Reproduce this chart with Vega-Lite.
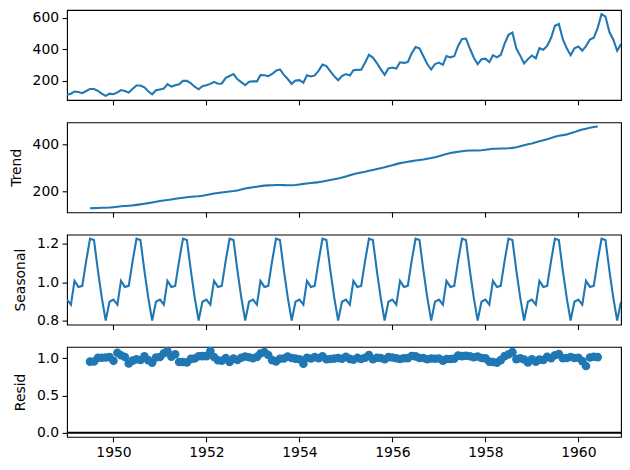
{
 "$schema": "https://vega.github.io/schema/vega-lite/v6.json",
 "background": "white",
 "padding": {"left": 8, "top": 9, "right": 10, "bottom": 8},
 "spacing": 15.3,
 "config": {
  "font": "DejaVu Sans",
  "view": {"stroke": "black", "strokeWidth": 1.1},
  "axis": {"grid": false, "domain": false, "tickColor": "black", "tickSize": 4.9, "tickWidth": 1.1, "labelColor": "black", "labelFontSize": 13.9, "labelFont": "DejaVu Sans", "labelPadding": 3.5, "titleFont": "DejaVu Sans", "titleFontSize": 13.9, "titleFontWeight": "normal", "titleColor": "black", "titlePadding": 8.6, "labelFlush": false, "labelOverlap": false},
  "line": {"color": "#1f77b4", "strokeWidth": 2.08},
  "point": {"color": "#1f77b4"}
 },
 "datasets": {
  "m": [
   {"d":"1949-01","v":112,"s":0.9102},{"d":"1949-02","v":118,"s":0.8836},{"d":"1949-03","v":132,"s":1.0074},{"d":"1949-04","v":129,"s":0.9759},{"d":"1949-05","v":121,"s":0.9814},{"d":"1949-06","v":135,"s":1.1128},{"d":"1949-07","v":148,"s":1.2266},{"d":"1949-08","v":148,"s":1.2199},{"d":"1949-09","v":136,"s":1.0605},{"d":"1949-10","v":119,"s":0.9218},{"d":"1949-11","v":104,"s":0.8012},{"d":"1949-12","v":118,"s":0.8988},
   {"d":"1950-01","v":115,"s":0.9102},{"d":"1950-02","v":126,"s":0.8836},{"d":"1950-03","v":141,"s":1.0074},{"d":"1950-04","v":135,"s":0.9759},{"d":"1950-05","v":125,"s":0.9814},{"d":"1950-06","v":149,"s":1.1128},{"d":"1950-07","v":170,"s":1.2266},{"d":"1950-08","v":170,"s":1.2199},{"d":"1950-09","v":158,"s":1.0605},{"d":"1950-10","v":133,"s":0.9218},{"d":"1950-11","v":114,"s":0.8012},{"d":"1950-12","v":140,"s":0.8988},
   {"d":"1951-01","v":145,"s":0.9102},{"d":"1951-02","v":150,"s":0.8836},{"d":"1951-03","v":178,"s":1.0074},{"d":"1951-04","v":163,"s":0.9759},{"d":"1951-05","v":172,"s":0.9814},{"d":"1951-06","v":178,"s":1.1128},{"d":"1951-07","v":199,"s":1.2266},{"d":"1951-08","v":199,"s":1.2199},{"d":"1951-09","v":184,"s":1.0605},{"d":"1951-10","v":162,"s":0.9218},{"d":"1951-11","v":146,"s":0.8012},{"d":"1951-12","v":166,"s":0.8988},
   {"d":"1952-01","v":171,"s":0.9102},{"d":"1952-02","v":180,"s":0.8836},{"d":"1952-03","v":193,"s":1.0074},{"d":"1952-04","v":181,"s":0.9759},{"d":"1952-05","v":183,"s":0.9814},{"d":"1952-06","v":218,"s":1.1128},{"d":"1952-07","v":230,"s":1.2266},{"d":"1952-08","v":242,"s":1.2199},{"d":"1952-09","v":209,"s":1.0605},{"d":"1952-10","v":191,"s":0.9218},{"d":"1952-11","v":172,"s":0.8012},{"d":"1952-12","v":194,"s":0.8988},
   {"d":"1953-01","v":196,"s":0.9102},{"d":"1953-02","v":196,"s":0.8836},{"d":"1953-03","v":236,"s":1.0074},{"d":"1953-04","v":235,"s":0.9759},{"d":"1953-05","v":229,"s":0.9814},{"d":"1953-06","v":243,"s":1.1128},{"d":"1953-07","v":264,"s":1.2266},{"d":"1953-08","v":272,"s":1.2199},{"d":"1953-09","v":237,"s":1.0605},{"d":"1953-10","v":211,"s":0.9218},{"d":"1953-11","v":180,"s":0.8012},{"d":"1953-12","v":201,"s":0.8988},
   {"d":"1954-01","v":204,"s":0.9102},{"d":"1954-02","v":188,"s":0.8836},{"d":"1954-03","v":235,"s":1.0074},{"d":"1954-04","v":227,"s":0.9759},{"d":"1954-05","v":234,"s":0.9814},{"d":"1954-06","v":264,"s":1.1128},{"d":"1954-07","v":302,"s":1.2266},{"d":"1954-08","v":293,"s":1.2199},{"d":"1954-09","v":259,"s":1.0605},{"d":"1954-10","v":229,"s":0.9218},{"d":"1954-11","v":203,"s":0.8012},{"d":"1954-12","v":229,"s":0.8988},
   {"d":"1955-01","v":242,"s":0.9102},{"d":"1955-02","v":233,"s":0.8836},{"d":"1955-03","v":267,"s":1.0074},{"d":"1955-04","v":269,"s":0.9759},{"d":"1955-05","v":270,"s":0.9814},{"d":"1955-06","v":315,"s":1.1128},{"d":"1955-07","v":364,"s":1.2266},{"d":"1955-08","v":347,"s":1.2199},{"d":"1955-09","v":312,"s":1.0605},{"d":"1955-10","v":274,"s":0.9218},{"d":"1955-11","v":237,"s":0.8012},{"d":"1955-12","v":278,"s":0.8988},
   {"d":"1956-01","v":284,"s":0.9102},{"d":"1956-02","v":277,"s":0.8836},{"d":"1956-03","v":317,"s":1.0074},{"d":"1956-04","v":313,"s":0.9759},{"d":"1956-05","v":318,"s":0.9814},{"d":"1956-06","v":374,"s":1.1128},{"d":"1956-07","v":413,"s":1.2266},{"d":"1956-08","v":405,"s":1.2199},{"d":"1956-09","v":355,"s":1.0605},{"d":"1956-10","v":306,"s":0.9218},{"d":"1956-11","v":271,"s":0.8012},{"d":"1956-12","v":306,"s":0.8988},
   {"d":"1957-01","v":315,"s":0.9102},{"d":"1957-02","v":301,"s":0.8836},{"d":"1957-03","v":356,"s":1.0074},{"d":"1957-04","v":348,"s":0.9759},{"d":"1957-05","v":355,"s":0.9814},{"d":"1957-06","v":422,"s":1.1128},{"d":"1957-07","v":465,"s":1.2266},{"d":"1957-08","v":467,"s":1.2199},{"d":"1957-09","v":404,"s":1.0605},{"d":"1957-10","v":347,"s":0.9218},{"d":"1957-11","v":305,"s":0.8012},{"d":"1957-12","v":336,"s":0.8988},
   {"d":"1958-01","v":340,"s":0.9102},{"d":"1958-02","v":318,"s":0.8836},{"d":"1958-03","v":362,"s":1.0074},{"d":"1958-04","v":348,"s":0.9759},{"d":"1958-05","v":363,"s":0.9814},{"d":"1958-06","v":435,"s":1.1128},{"d":"1958-07","v":491,"s":1.2266},{"d":"1958-08","v":505,"s":1.2199},{"d":"1958-09","v":404,"s":1.0605},{"d":"1958-10","v":359,"s":0.9218},{"d":"1958-11","v":310,"s":0.8012},{"d":"1958-12","v":337,"s":0.8988},
   {"d":"1959-01","v":360,"s":0.9102},{"d":"1959-02","v":342,"s":0.8836},{"d":"1959-03","v":406,"s":1.0074},{"d":"1959-04","v":396,"s":0.9759},{"d":"1959-05","v":420,"s":0.9814},{"d":"1959-06","v":472,"s":1.1128},{"d":"1959-07","v":548,"s":1.2266},{"d":"1959-08","v":559,"s":1.2199},{"d":"1959-09","v":463,"s":1.0605},{"d":"1959-10","v":407,"s":0.9218},{"d":"1959-11","v":362,"s":0.8012},{"d":"1959-12","v":405,"s":0.8988},
   {"d":"1960-01","v":417,"s":0.9102},{"d":"1960-02","v":391,"s":0.8836},{"d":"1960-03","v":419,"s":1.0074},{"d":"1960-04","v":461,"s":0.9759},{"d":"1960-05","v":472,"s":0.9814},{"d":"1960-06","v":535,"s":1.1128},{"d":"1960-07","v":622,"s":1.2266},{"d":"1960-08","v":606,"s":1.2199},{"d":"1960-09","v":508,"s":1.0605},{"d":"1960-10","v":461,"s":0.9218},{"d":"1960-11","v":390,"s":0.8012},{"d":"1960-12","v":432,"s":0.8988}
  ],
  "t": [
   {"d":"1949-07","t":126.79,"r":0.9517},{"d":"1949-08","t":127.25,"r":0.9534},{"d":"1949-09","t":127.96,"r":1.0022},{"d":"1949-10","t":128.58,"r":1.0040},{"d":"1949-11","t":129.00,"r":1.0063},{"d":"1949-12","t":129.75,"r":1.0118},
   {"d":"1950-01","t":131.25,"r":0.9626},{"d":"1950-02","t":133.08,"r":1.0715},{"d":"1950-03","t":134.92,"r":1.0374},{"d":"1950-04","t":136.42,"r":1.0140},{"d":"1950-05","t":137.42,"r":0.9269},{"d":"1950-06","t":138.75,"r":0.9650},{"d":"1950-07","t":140.92,"r":0.9835},{"d":"1950-08","t":143.17,"r":0.9734},{"d":"1950-09","t":145.71,"r":1.0225},{"d":"1950-10","t":148.42,"r":0.9721},{"d":"1950-11","t":151.54,"r":0.9390},{"d":"1950-12","t":154.71,"r":1.0068},
   {"d":"1951-01","t":157.13,"r":1.0138},{"d":"1951-02","t":159.54,"r":1.0641},{"d":"1951-03","t":161.83,"r":1.0918},{"d":"1951-04","t":164.13,"r":1.0177},{"d":"1951-05","t":166.67,"r":1.0515},{"d":"1951-06","t":169.08,"r":0.9461},{"d":"1951-07","t":171.25,"r":0.9474},{"d":"1951-08","t":173.58,"r":0.9398},{"d":"1951-09","t":175.46,"r":0.9889},{"d":"1951-10","t":176.83,"r":0.9939},{"d":"1951-11","t":178.04,"r":1.0235},{"d":"1951-12","t":180.17,"r":1.0251},
   {"d":"1952-01","t":183.13,"r":1.0259},{"d":"1952-02","t":186.21,"r":1.0940},{"d":"1952-03","t":189.04,"r":1.0135},{"d":"1952-04","t":191.29,"r":0.9696},{"d":"1952-05","t":193.58,"r":0.9633},{"d":"1952-06","t":195.83,"r":1.0004},{"d":"1952-07","t":198.04,"r":0.9468},{"d":"1952-08","t":199.75,"r":0.9931},{"d":"1952-09","t":202.21,"r":0.9746},{"d":"1952-10","t":206.25,"r":1.0046},{"d":"1952-11","t":210.42,"r":1.0202},{"d":"1952-12","t":213.38,"r":1.0115},
   {"d":"1953-01","t":215.83,"r":0.9977},{"d":"1953-02","t":218.50,"r":1.0152},{"d":"1953-03","t":220.92,"r":1.0604},{"d":"1953-04","t":222.92,"r":1.0802},{"d":"1953-05","t":224.08,"r":1.0413},{"d":"1953-06","t":224.71,"r":0.9718},{"d":"1953-07","t":225.33,"r":0.9552},{"d":"1953-08","t":225.33,"r":0.9895},{"d":"1953-09","t":224.96,"r":0.9934},{"d":"1953-10","t":224.58,"r":1.0192},{"d":"1953-11","t":224.46,"r":1.0009},{"d":"1953-12","t":225.54,"r":0.9916},
   {"d":"1954-01","t":228.00,"r":0.9830},{"d":"1954-02","t":230.46,"r":0.9232},{"d":"1954-03","t":232.25,"r":1.0044},{"d":"1954-04","t":233.92,"r":0.9944},{"d":"1954-05","t":235.63,"r":1.0119},{"d":"1954-06","t":237.75,"r":0.9979},{"d":"1954-07","t":240.50,"r":1.0237},{"d":"1954-08","t":243.96,"r":0.9845},{"d":"1954-09","t":247.17,"r":0.9881},{"d":"1954-10","t":250.25,"r":0.9927},{"d":"1954-11","t":253.50,"r":0.9995},{"d":"1954-12","t":257.13,"r":0.9909},
   {"d":"1955-01","t":261.83,"r":1.0154},{"d":"1955-02","t":266.67,"r":0.9888},{"d":"1955-03","t":271.13,"r":0.9775},{"d":"1955-04","t":275.21,"r":1.0016},{"d":"1955-05","t":278.50,"r":0.9879},{"d":"1955-06","t":281.96,"r":1.0039},{"d":"1955-07","t":285.75,"r":1.0385},{"d":"1955-08","t":289.33,"r":0.9831},{"d":"1955-09","t":293.25,"r":1.0033},{"d":"1955-10","t":297.17,"r":1.0003},{"d":"1955-11","t":301.00,"r":0.9828},{"d":"1955-12","t":305.46,"r":1.0126},
   {"d":"1956-01","t":309.96,"r":1.0066},{"d":"1956-02","t":314.42,"r":0.9970},{"d":"1956-03","t":318.63,"r":0.9876},{"d":"1956-04","t":321.75,"r":0.9968},{"d":"1956-05","t":324.50,"r":0.9985},{"d":"1956-06","t":327.08,"r":1.0275},{"d":"1956-07","t":329.54,"r":1.0217},{"d":"1956-08","t":331.83,"r":1.0005},{"d":"1956-09","t":334.46,"r":1.0009},{"d":"1956-10","t":337.54,"r":0.9835},{"d":"1956-11","t":340.54,"r":0.9933},{"d":"1956-12","t":344.08,"r":0.9895},
   {"d":"1957-01","t":348.25,"r":0.9938},{"d":"1957-02","t":353.00,"r":0.9650},{"d":"1957-03","t":357.63,"r":0.9881},{"d":"1957-04","t":361.38,"r":0.9868},{"d":"1957-05","t":364.50,"r":0.9924},{"d":"1957-06","t":367.17,"r":1.0328},{"d":"1957-07","t":369.46,"r":1.0261},{"d":"1957-08","t":371.21,"r":1.0313},{"d":"1957-09","t":372.17,"r":1.0236},{"d":"1957-10","t":372.42,"r":1.0108},{"d":"1957-11","t":372.75,"r":1.0213},{"d":"1957-12","t":373.63,"r":1.0005},
   {"d":"1958-01","t":375.25,"r":0.9955},{"d":"1958-02","t":377.92,"r":0.9523},{"d":"1958-03","t":379.50,"r":0.9469},{"d":"1958-04","t":380.00,"r":0.9384},{"d":"1958-05","t":380.71,"r":0.9716},{"d":"1958-06","t":380.96,"r":1.0261},{"d":"1958-07","t":381.83,"r":1.0484},{"d":"1958-08","t":383.67,"r":1.0790},{"d":"1958-09","t":386.50,"r":0.9857},{"d":"1958-10","t":390.33,"r":0.9978},{"d":"1958-11","t":394.71,"r":0.9803},{"d":"1958-12","t":398.63,"r":0.9406},
   {"d":"1959-01","t":402.54,"r":0.9826},{"d":"1959-02","t":407.17,"r":0.9506},{"d":"1959-03","t":411.88,"r":0.9785},{"d":"1959-04","t":416.33,"r":0.9747},{"d":"1959-05","t":420.50,"r":1.0177},{"d":"1959-06","t":425.50,"r":0.9968},{"d":"1959-07","t":430.71,"r":1.0373},{"d":"1959-08","t":435.13,"r":1.0531},{"d":"1959-09","t":437.71,"r":0.9974},{"d":"1959-10","t":440.96,"r":1.0013},{"d":"1959-11","t":445.83,"r":1.0134},{"d":"1959-12","t":450.63,"r":0.9999},
   {"d":"1960-01","t":456.33,"r":1.0040},{"d":"1960-02","t":461.38,"r":0.9591},{"d":"1960-03","t":465.21,"r":0.8941},{"d":"1960-04","t":469.33,"r":1.0065},{"d":"1960-05","t":472.75,"r":1.0173},{"d":"1960-06","t":475.04,"r":1.0121}
  ]
 },
 "vconcat": [
  {
   "width": 554, "height": 90,
   "data": {"name": "m"},
   "mark": {"type": "line", "clip": true},
   "encoding": {
    "x": {"field": "d", "type": "temporal", "scale": {"type": "utc", "domain": [{"year": 1949, "month": 1, "date": 1, "utc": true}, {"year": 1960, "month": 12, "date": 1, "utc": true}]}, "axis": {"title": null, "labels": false, "values": [{"year": 1950, "utc": true}, {"year": 1952, "utc": true}, {"year": 1954, "utc": true}, {"year": 1956, "utc": true}, {"year": 1958, "utc": true}, {"year": 1960, "utc": true}]}},
    "y": {"field": "v", "type": "quantitative", "scale": {"domain": [78.1, 647.9], "nice": false, "zero": false}, "axis": {"title": null, "values": [200, 400, 600]}}
   }
  },
  {
   "width": 554, "height": 90,
   "data": {"name": "t"},
   "mark": {"type": "line", "clip": true},
   "encoding": {
    "x": {"field": "d", "type": "temporal", "scale": {"type": "utc", "domain": [{"year": 1949, "month": 1, "date": 1, "utc": true}, {"year": 1960, "month": 12, "date": 1, "utc": true}]}, "axis": {"title": null, "labels": false, "values": [{"year": 1950, "utc": true}, {"year": 1952, "utc": true}, {"year": 1954, "utc": true}, {"year": 1956, "utc": true}, {"year": 1958, "utc": true}, {"year": 1960, "utc": true}]}},
    "y": {"field": "t", "type": "quantitative", "scale": {"domain": [109.4, 492.4], "nice": false, "zero": false}, "axis": {"title": "Trend", "values": [200, 400]}}
   }
  },
  {
   "width": 554, "height": 90,
   "data": {"name": "m"},
   "mark": {"type": "line", "clip": true},
   "encoding": {
    "x": {"field": "d", "type": "temporal", "scale": {"type": "utc", "domain": [{"year": 1949, "month": 1, "date": 1, "utc": true}, {"year": 1960, "month": 12, "date": 1, "utc": true}]}, "axis": {"title": null, "labels": false, "values": [{"year": 1950, "utc": true}, {"year": 1952, "utc": true}, {"year": 1954, "utc": true}, {"year": 1956, "utc": true}, {"year": 1958, "utc": true}, {"year": 1960, "utc": true}]}},
    "y": {"field": "s", "type": "quantitative", "scale": {"domain": [0.78, 1.248], "nice": false, "zero": false}, "axis": {"title": "Seasonal", "values": [0.8, 1.0, 1.2], "format": ".1f"}}
   }
  },
  {
   "width": 554, "height": 90,
   "layer": [
    {
     "data": {"name": "t"},
     "mark": {"type": "point", "filled": true, "opacity": 1, "size": 74, "clip": true},
     "encoding": {
      "x": {"field": "d", "type": "temporal", "scale": {"type": "utc", "domain": [{"year": 1949, "month": 1, "date": 1, "utc": true}, {"year": 1960, "month": 12, "date": 1, "utc": true}]}, "axis": {"title": null, "format": "%Y", "values": [{"year": 1950, "utc": true}, {"year": 1952, "utc": true}, {"year": 1954, "utc": true}, {"year": 1956, "utc": true}, {"year": 1958, "utc": true}, {"year": 1960, "utc": true}]}},
      "y": {"field": "r", "type": "quantitative", "scale": {"domain": [-0.055, 1.149], "nice": false, "zero": false}, "axis": {"title": "Resid", "values": [0, 0.5, 1.0], "format": ".1f"}}
     }
    },
    {
     "data": {"values": [{"z": 0}]},
     "mark": {"type": "rule", "color": "black", "strokeWidth": 2.08},
     "encoding": {"y": {"field": "z", "type": "quantitative"}}
    }
   ]
  }
 ]
}
